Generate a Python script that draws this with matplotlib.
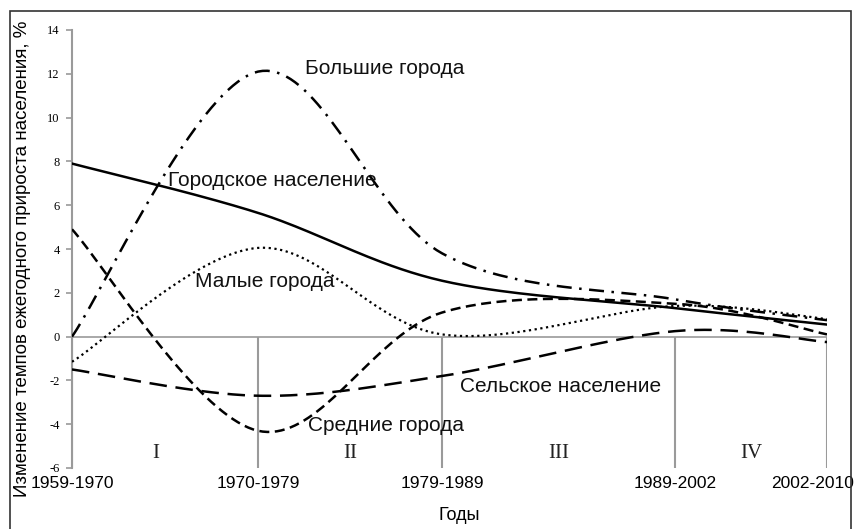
import matplotlib.pyplot as plt
import matplotlib.transforms as mtransforms
from matplotlib.patches import Rectangle
import numpy as np

# Periods on the x axis (placed at their approximate mid-years)
periods = ['1959-1970', '1970-1979', '1979-1989', '1989-2002', '2002-2010']
x_years = [1965.0, 1975.1, 1985.1, 1997.75, 2006.0]
stages = ['I', 'II', 'III', 'IV']

# Change of annual growth rate, %
urban = [7.9, 5.65, 2.55, 1.3, 0.55]      # Городское население
big = [0.0, 12.1, 3.8, 1.7, 0.75]         # Большие города
small = [-1.15, 4.05, 0.1, 1.4, 0.8]      # Малые города
medium = [4.9, -4.3, 1.1, 1.5, 0.1]       # Средние города
rural = [-1.5, -2.7, -1.8, 0.25, -0.25]   # Сельское население

yticks = list(range(-6, 15, 2))

sans = ['Liberation Sans', 'DejaVu Sans']
serif = ['Liberation Serif', 'DejaVu Serif']
grey = '#9a9a9a'


def excel_smooth(ax, xs, ys, n=40):
    # Excel-style smoothed line (Catmull-Rom bezier in display space)
    pts = ax.transData.transform(np.column_stack([xs, ys]))
    P = np.vstack([pts[0], pts, pts[-1]])
    t = np.linspace(0, 1, n)[:, None]
    out = []
    for i in range(1, len(P) - 2):
        p0, p1, p2, p3 = P[i - 1], P[i], P[i + 1], P[i + 2]
        c1 = p1 + (p2 - p0) / 6
        c2 = p2 - (p3 - p1) / 6
        seg = (1 - t) ** 3 * p1 + 3 * (1 - t) ** 2 * t * c1 + 3 * (1 - t) * t ** 2 * c2 + t ** 3 * p2
        out.append(seg if i == 1 else seg[1:])
    return ax.transData.inverted().transform(np.vstack(out)).T


fig = plt.figure(figsize=(8.56, 5.29), dpi=100)
ax = fig.add_axes([72 / 856, 1 - 468 / 529, (827 - 72) / 856, (468 - 30) / 529])
ax.set_xlim(x_years[0], x_years[-1])
ax.set_ylim(-6, 14)

# outer frame of the picture
fig.patches.append(Rectangle((10 / 856, -0.05), 841 / 856, 1.05 - 11 / 529,
                             transform=fig.transFigure, fill=False,
                             edgecolor='#333333', lw=1.2))

# zero line and period separators
ax.axhline(0, color=grey, lw=1.2, zorder=1)
ax.vlines(x_years, -6, 0, color=grey, lw=1.5, zorder=1)

styles = [
    (urban, dict(ls='-', lw=1.8)),
    (big, dict(ls=(0, (6, 3, 1, 3)), lw=1.8)),
    (small, dict(ls=(0, (1, 1.6)), lw=1.6)),
    (medium, dict(ls=(0, (4, 2.2)), lw=1.8)),
    (rural, dict(ls=(0, (7, 3.5)), lw=1.8)),
]
for vals, st in styles:
    sx, sy = excel_smooth(ax, x_years, vals)
    ax.plot(sx, sy, color='black', zorder=3, **st)

# series labels
lab = dict(fontsize=15, family=sans, va='center', ha='left', color='#111111')
ax.text(1977.65, 12.26, 'Большие города', **lab)
ax.text(1970.2, 7.14, 'Городское население', **lab)
ax.text(1971.68, 2.5, 'Малые города', **lab)
ax.text(1977.8, -4.04, 'Средние города', **lab)
ax.text(1986.07, -2.26, 'Сельское население', **lab)

# stage numerals between the separators (first one sits a bit left in the original)
stage_shift = [-0.5, 0, 0, 0]
for i, s in enumerate(stages):
    ax.text((x_years[i] + x_years[i + 1]) / 2 + stage_shift[i], -5.35, s,
            ha='center', va='center', fontsize=15, family=serif, color='#222222')

# axes styling
for side in ['top', 'right', 'bottom']:
    ax.spines[side].set_visible(False)
ax.spines['left'].set_color(grey)
ax.spines['left'].set_linewidth(1.5)
ax.set_yticks(yticks)
ax.set_yticklabels([str(v) for v in yticks], family=serif, fontsize=9)
ax.tick_params(axis='y', length=4, color=grey, width=1.2, pad=5)
ax.set_xticks(x_years)
ax.set_xticklabels(periods, family=sans, fontsize=12.5)
ax.tick_params(axis='x', length=0, pad=6)
last = ax.get_xticklabels()[-1]
last.set_transform(last.get_transform() + mtransforms.ScaledTranslation(-0.14, 0, fig.dpi_scale_trans))

fig.text(459 / 856, 1 - 515 / 529, 'Годы', family=sans, fontsize=13,
         ha='center', va='center')
fig.text(23 / 856, 1 - 259 / 529, 'Изменение темпов ежегодного прироста населения, %',
         family=sans, fontsize=13.5, rotation=90, ha='center', va='center')

fig.savefig('out.png', dpi=100)
